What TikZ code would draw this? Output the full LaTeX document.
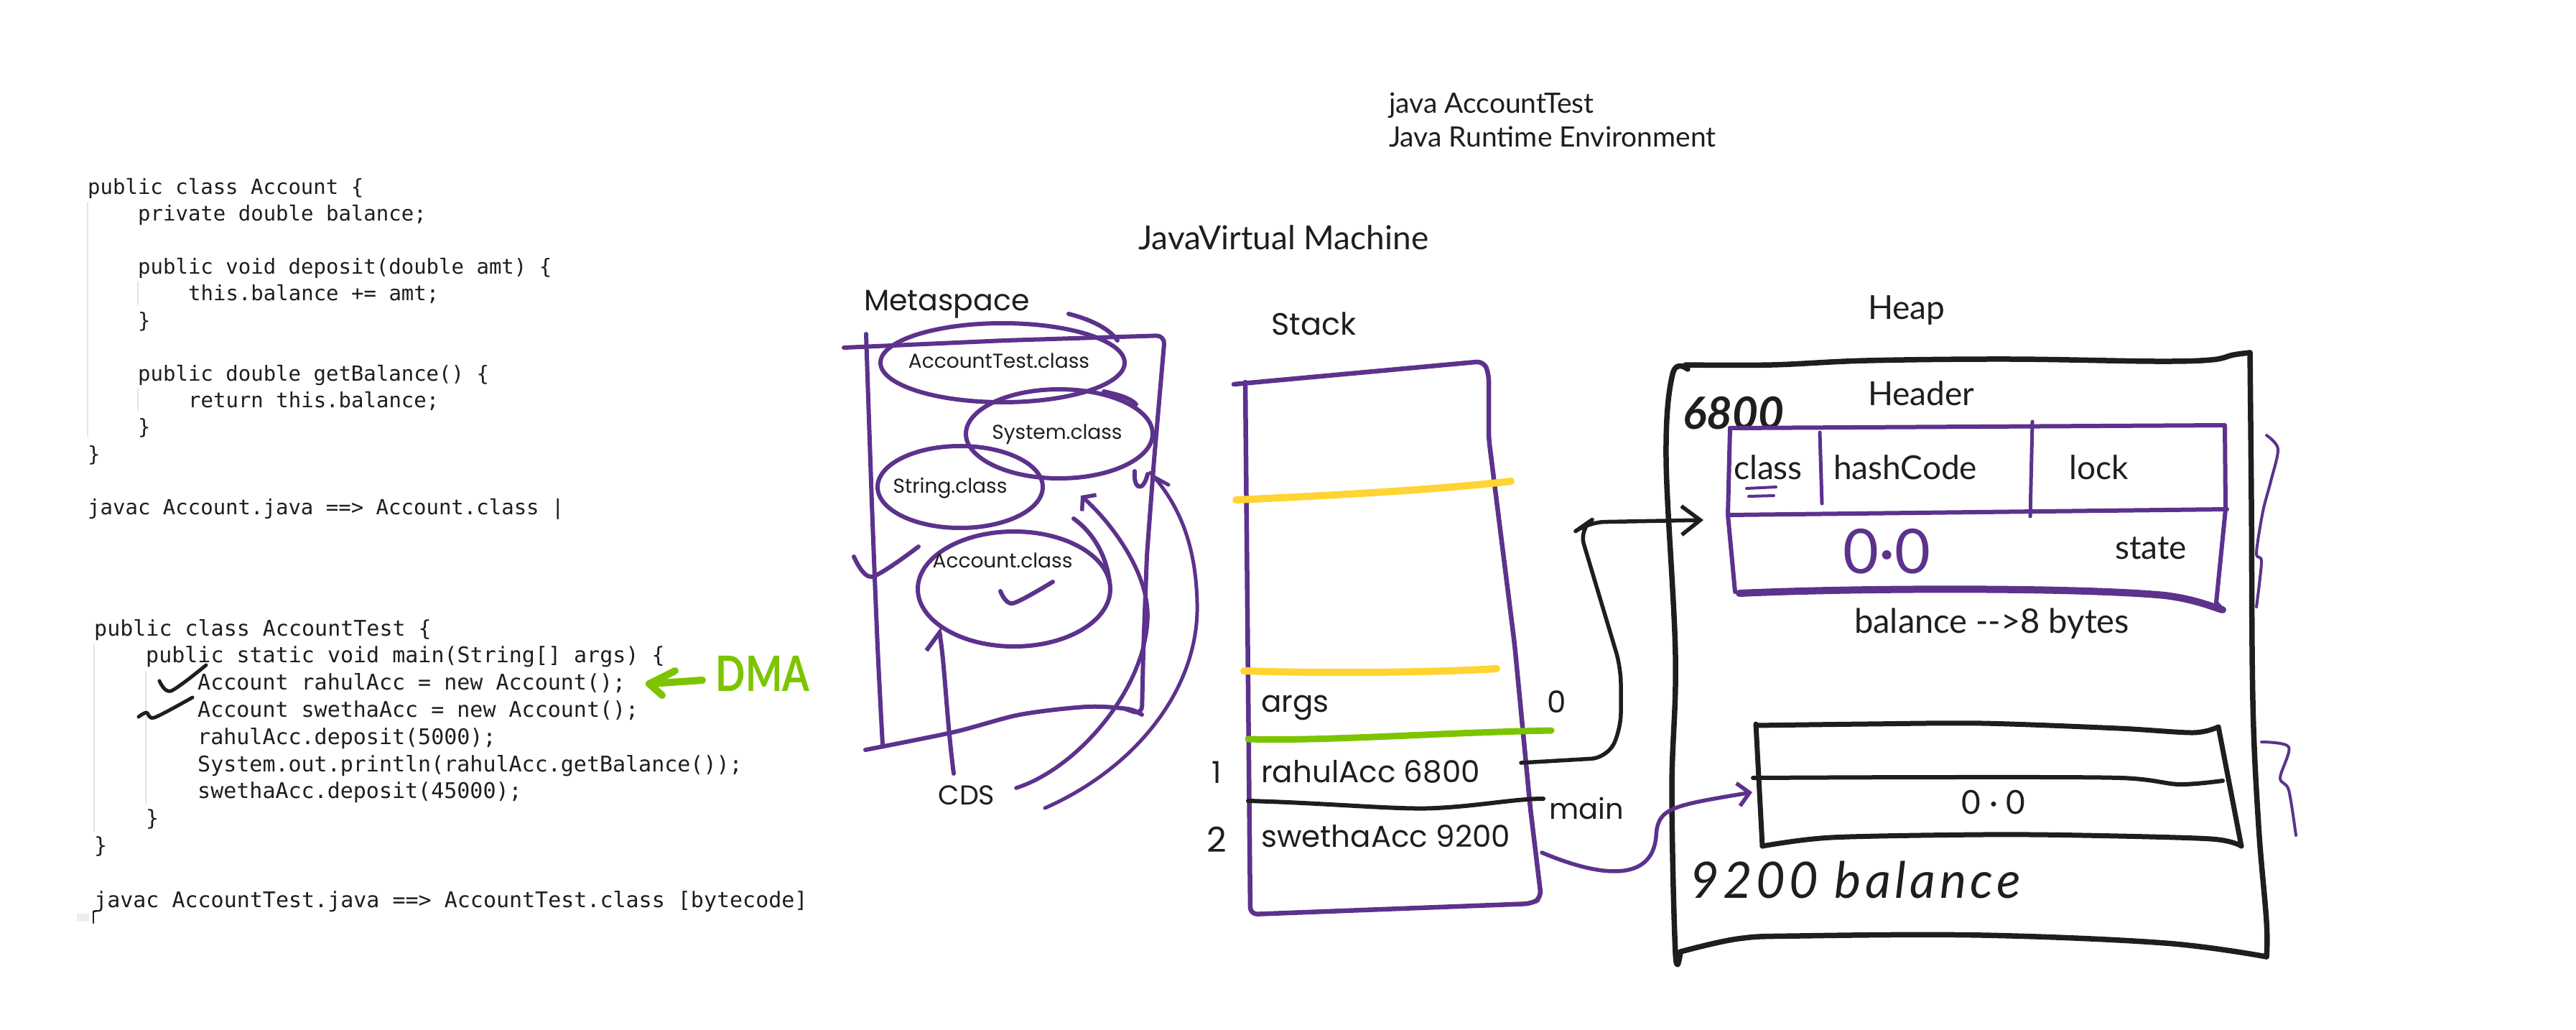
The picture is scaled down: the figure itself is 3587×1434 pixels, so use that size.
\documentclass[tikz,border=0pt]{standalone}
\usepackage{fontspec}
\usepackage{graphicx}
\setmainfont{Lato}
\newfontfamily\codefont{DejaVu Sans Mono}
\newfontfamily\handfont{Poppins}
\newfontfamily\inkfont{Lato}
\newfontfamily\dmafont[FakeStretch=0.8]{Lato}
\newfontfamily\scribfont[LetterSpace=8]{Lato}
\usetikzlibrary{arrows.meta,shapes.geometric}
\definecolor{jpurple}{RGB}{92,50,140}
\definecolor{ink}{RGB}{30,30,30}
\definecolor{jyellow}{RGB}{255,212,51}
\definecolor{jgreen}{RGB}{125,196,0}
\newcommand\jhand[1]{\handfont\fontsize{#1}{#1}\selectfont}
\newcommand\jink[1]{\inkfont\fontsize{#1}{#1}\selectfont}
\newcommand\jcode[1]{\codefont\fontsize{#1}{#1}\selectfont}
\begin{document}
\begin{tikzpicture}[x=1pt,y=-1pt,line cap=round,line join=round,
  code/.style={anchor=base west,inner sep=0pt,font={\jcode{29}},text=ink},
  codeb/.style={anchor=base west,inner sep=0pt,font={\jcode{30}},text=ink},
  hand/.style={inner sep=0pt,font={\jhand{42}},text=ink},
  cls/.style={inner sep=0pt,anchor=base,font={\jhand{28}},text=ink},
  inkt/.style={inner sep=0pt,font={\jink{46}},text=ink},
  pline/.style={draw=jpurple,line width=6},
  bline/.style={draw=ink,line width=7.5},
  ell/.style={ellipse,draw=jpurple,line width=6,inner sep=0pt},
  guide/.style={draw=black!10,line width=1.2}]
\useasboundingbox (0,0) rectangle (3587,1434);
\fill[white] (0,0) rectangle (3587,1434);

% ---------- code block 1 ----------
\draw[guide] (122,282) -- (122,608);
\draw[guide] (192,392) -- (192,424);
\draw[guide] (192,540) -- (192,572);
\node[code] (a0) at (122,270) {public class Account \{};
\node[code] (a1) at (192,307.2) {private double balance;};
\node[code] (a3) at (192,381.6) {public void deposit(double amt) \{};
\node[code] (a4) at (262,418.8) {this.balance += amt;};
\node[code] (a5) at (192,456) {\}};
\node[code] (a7) at (192,530.4) {public double getBalance() \{};
\node[code] (a8) at (262,567.6) {return this.balance;};
\node[code] (a9) at (192,604.8) {\}};
\node[code] (a10) at (122,642) {\}};
\node[code] (a12) at (122,716.4) {javac Account.java ==> Account.class |};

% ---------- code block 2 ----------
\draw[guide] (131,897) -- (131,1158);
\draw[guide] (203,935) -- (203,1120);
\node[codeb] (b0) at (131,885) {public class AccountTest \{};
\node[codeb] (b1) at (203,922.8) {public static void main(String[] args) \{};
\node[codeb] (b2) at (275,960.6) {Account rahulAcc = new Account();};
\node[codeb] (b3) at (275,998.4) {Account swethaAcc = new Account();};
\node[codeb] (b4) at (275,1036.2) {rahulAcc.deposit(5000);};
\node[codeb] (b5) at (275,1074) {System.out.println(rahulAcc.getBalance());};
\node[codeb] (b6) at (275,1111.8) {swethaAcc.deposit(45000);};
\node[codeb] (b7) at (203,1149.6) {\}};
\node[codeb] (b8) at (131,1187.4) {\}};
\node[codeb] (b10) at (131,1263) {javac AccountTest.java ==> AccountTest.class [bytecode]};
\fill[black!7] (107,1272) rectangle (124,1283);
\draw[ink,line width=2.5] (130,1269) -- (130,1285);
\draw[ink,line width=2.5] (130,1269) -- (135,1268);

% check marks
\draw[ink,line width=5] plot[smooth] coordinates {(222,948) (238,962) (287,926)};
\draw[ink,line width=5] plot[smooth] coordinates {(193,998) (204,992) (215,999) (268,971)};

% DMA
\coordinate (dmaTail) at (978,947);
\coordinate (dmaTip) at (904,952);
\draw[jgreen,line width=10] (dmaTail) -- (dmaTip);
\draw[jgreen,line width=10] (940,934) -- (dmaTip) -- (922,968);
\node[inner sep=0pt,font={\dmafont\fontsize{68}{68}\selectfont\bfseries},text=jgreen] (dma) at (1062,938) {DMA};

% ---------- titles ----------
\node[inkt,anchor=base west,font={\jink{39}}] (jat) at (1934,158) {java AccountTest};
\node[inkt,anchor=base west,font={\jink{39}}] (jre) at (1934,205) {Java Runtime Environment};
\node[inkt,anchor=base west,font={\jink{46}}] (jvm) at (1585,347) {JavaVirtual Machine};
\node[hand,anchor=base west,font={\jhand{41}}] (meta) at (1203,432) {Metaspace};
\node[hand,anchor=base west,font={\jhand{43}}] (stack) at (1770,466) {Stack};
\node[inkt,anchor=base west] (heap) at (2601,444) {Heap};

% ---------- metaspace ----------
\draw[pline] plot[smooth] coordinates {(1206,465) (1214,700) (1222,900) (1229,1037)};
\draw[pline,rounded corners=12] (1175,484) -- (1400,474) -- (1622,467) -- (1607,640) -- (1597,773) -- (1592,907) -- (1590,995) -- (1567,987);
\draw[pline] plot[smooth] coordinates {(1205,1044) (1329,1019) (1420,995) (1513,984) (1570,987) (1590,995)};
\draw[pline] plot[smooth] coordinates {(1189,775) (1214,803) (1279,761)};

\node[ell,minimum width=340,minimum height=110] (atE) at (1396,505) {};
\node[ell,minimum width=260,minimum height=124] (sysE) at (1475,604) {};
\node[ell,minimum width=230,minimum height=114] (strE) at (1337,678) {};
\node[ell,minimum width=268,minimum height=160] (accE) at (1412,820) {};
\node[cls] (atT) at (1391,512) {AccountTest.class};
\node[cls] (sysT) at (1472,611) {System.class};
\node[cls] (strT) at (1323,686) {String.class};
\node[cls] (accT) at (1396,790) {Account.class};
\draw[pline] (1488,437) .. controls (1520,445) and (1545,458) .. (1556,474);
\draw[pline] (1537,545) .. controls (1560,550) and (1575,555) .. (1582,563);
\draw[pline] (1580,656) .. controls (1578,682) and (1592,686) .. (1598,660);
\draw[pline] (1495,722) .. controls (1520,740) and (1540,770) .. (1545,810);
\draw[pline] plot[smooth] coordinates {(1393,823) (1410,840) (1466,810)};

% CDS
\node[hand,anchor=base,font={\jhand{38}}] (cds) at (1346,1120) {CDS};
\coordinate (cdsUp) at (1328,1077);
\coordinate (cdsA) at (1415,1097);
\coordinate (sysA) at (1505,690);
\coordinate (cdsB) at (1455,1125);
\coordinate (sysB) at (1602,658);
\draw[pline,-{Straight Barb[harpoon,length=22,width=44]}] (cdsUp) .. controls (1318,1000) and (1316,930) .. (accE.207);
\draw[pline,line width=5.5,-{Straight Barb[length=12,width=30]}] (cdsA) .. controls (1500,1070) and (1595,960) .. (1598,860) .. controls (1600,800) and (1550,730) .. (sysA);
\draw[pline,line width=5] (cdsB) .. controls (1580,1070) and (1670,960) .. (1667,840) .. controls (1665,740) and (1630,690) .. (sysB);
\draw[pline,line width=5] (1605,663) -- (1627,675);

% ---------- stack ----------
\draw[pline,line width=6.5,rounded corners=10] (1718,535) -- (2066,503) -- (2073,520) -- (2073,610) -- (2109,897) -- (2131,1126) -- (2146,1250) -- (2133,1258) -- (1741,1273) -- (1734,532);
\draw[jyellow,line width=10] (1721,696) .. controls (1850,690) and (2000,682) .. (2104,670);
\draw[jyellow,line width=10] (1732,934) .. controls (1850,938) and (2000,936) .. (2084,931);
\draw[jgreen,line width=9] (1738,1029) .. controls (1850,1032) and (2000,1020) .. (2160,1017);
\draw[ink,line width=6] (1738,1115) .. controls (1850,1118) and (1950,1128) .. (2000,1125) .. controls (2060,1122) and (2110,1112) .. (2149,1112);
\node[hand,anchor=base west] (args) at (1756,991) {args};
\node[hand] (zero) at (2168,977) {0};
\node[hand] (one) at (1694,1075) {1};
\node[hand,anchor=base west] (rahul) at (1756,1089) {rahulAcc 6800};
\node[hand,anchor=base west,font={\jhand{40}}] (mainl) at (2157,1140) {main};
\node[hand,font={\jhand{48}}] (two) at (1694,1169) {2};
\node[hand,anchor=base west] (swetha) at (1756,1179) {swethaAcc 9200};

% ---------- heap ----------
\draw[bline] plot[smooth,tension=0.6] coordinates {(2347,508) (2467,508) (2600,502) (2800,500) (3000,503) (3079,501) (3110,494) (3133,491)};
\draw[bline] plot[smooth,tension=0.6] coordinates {(3133,491) (3135,700) (3137,977) (3145,1150) (3156,1283) (3156,1332)};
\draw[bline] plot[smooth,tension=0.6] coordinates {(2340,1325) (2420,1307) (2505,1303) (2760,1302) (3015,1313) (3156,1332)};
\draw[bline] plot[smooth,tension=0.6] coordinates {(2350,514) (2329,521) (2320,640) (2333,913) (2328,1100) (2333,1327) (2340,1325)};

\node[inkt,anchor=base west,font={\jink{62}\bfseries\itshape}] (n6800) at (2343,597) {6800};
\node[inkt,anchor=base west] (hdr) at (2601,564) {Header};

\draw[pline,line width=6] (2409,596) -- (3098,592) -- (3099,709) -- (3086,839) -- (3095,849);
\draw[pline,line width=6] (2409,596) -- (2406,717) -- (2416,824);
\draw[pline,line width=6] (2406,717) -- (3101,709);
\draw[pline,line width=10] (2422,826) .. controls (2600,818) and (2900,818) .. (3015,829) .. controls (3060,835) and (3080,845) .. (3095,849);
\draw[pline,line width=5] (2534,602) -- (2537,701);
\draw[pline,line width=5] (2830,587) -- (2827,719);
\node[inkt,anchor=base west] (clsl) at (2414,667) {class};
\node[inkt,anchor=base west] (hash) at (2553,667) {hashCode};
\node[inkt,anchor=base west] (lock) at (2881,667) {lock};
\node[inkt,anchor=base west] (state) at (2945,778) {state};
\node[inkt,anchor=base west,font={\jink{86}},text=jpurple] (pz) at (2566,798) {0·0};
\node[inkt,anchor=base west,font={\jink{47}}] (bal) at (2582,881) {balance -{}->8 bytes};
\draw[jpurple,line width=4] (2432,680) -- (2473,678);
\draw[jpurple,line width=4] (2435,691) -- (2470,690);
\draw[jpurple,line width=4] plot[smooth] coordinates {(3156,606) (3172,625) (3162,670) (3151,712) (3142,770) (3149,782) (3142,845)};

% second object
\draw[bline,line width=7] plot[smooth,tension=0.5] coordinates {(2445,1010) (2600,1008) (2760,1007) (2950,1014) (3054,1020) (3089,1012)};
\draw[bline,line width=7] (3089,1012) -- (3121,1178);
\draw[bline,line width=7] plot[smooth,tension=0.5] coordinates {(3121,1178) (3079,1168) (2900,1163) (2760,1162) (2550,1166) (2454,1178)};
\draw[bline,line width=7] (2445,1008) -- (2454,1178);
\draw[bline,line width=6] plot[smooth,tension=0.5] coordinates {(2441,1083) (2700,1082) (2952,1083) (3034,1092) (3095,1087)};
\node[inkt,font={\jink{46}}] (bz) at (2776,1117) {0 · 0};
\draw[jpurple,line width=4] plot[smooth] coordinates {(3149,1033) (3187,1040) (3175,1083) (3187,1100) (3197,1163)};
\node[inkt,anchor=base west,font={\scribfont\fontsize{70}{70}\selectfont\itshape}] (scrib) at (2353,1250) {9200 balance};

% ---------- references ----------
\coordinate (rOut) at (2118,1062);
\coordinate (objIn) at (2372,724);
\draw[ink,line width=5.5,rounded corners=22,-{Straight Barb[length=26,width=40]}] (rOut) -- (2238,1055) -- (2257,1015) -- (2257,930) -- (2199,736) -- (2212,727) -- (objIn);
\coordinate (sOut) at (2147,1187);
\coordinate (box2In) at (2440,1103);
\draw[jpurple,line width=5.5,-{Straight Barb[length=16,width=32]}] (sOut) .. controls (2230,1222) and (2300,1228) .. (2306,1165) .. controls (2308,1125) and (2325,1122) .. (box2In);
\end{tikzpicture}
\end{document}
